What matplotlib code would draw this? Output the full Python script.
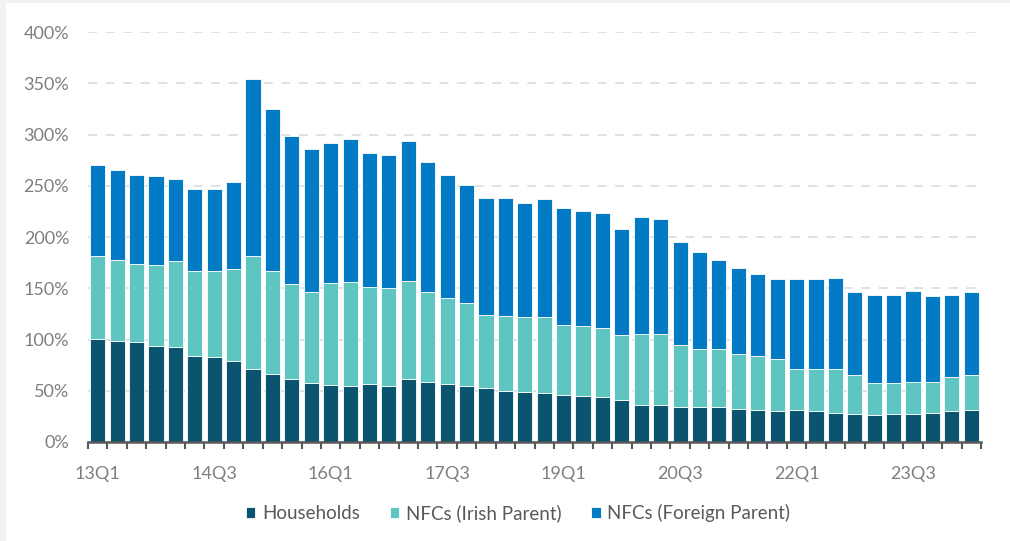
import matplotlib
matplotlib.use('Agg')
import numpy as np
from matplotlib import pyplot as plt
from matplotlib.patches import Rectangle

# quarters 13Q1 .. 24Q2
quarters = [f"{y % 100:02d}Q{q}" for y in range(2013, 2025) for q in range(1, 5)][:46]

households = [100.2, 98.8, 97.6, 93.7, 92.4, 83.9, 82.6, 78.7, 71.2, 66.3,
              61.1, 57.2, 55.9, 55.0, 56.3, 55.0, 61.1, 58.8, 56.3, 55.0,
              52.4, 50.1, 48.8, 47.5, 46.2, 44.9, 43.9, 41.3, 36.4, 36.4,
              33.8, 33.8, 33.8, 32.5, 31.2, 29.9, 31.2, 29.9, 28.6, 27.3,
              26.0, 27.3, 27.3, 28.6, 29.9, 31.2]
nfc_irish = [81.3, 78.8, 76.1, 79.0, 83.9, 82.6, 83.9, 90.1, 110.3, 100.2,
             92.7, 89.1, 99.2, 101.4, 95.2, 95.2, 96.3, 87.5, 83.9, 80.3,
             71.5, 72.8, 72.8, 74.1, 67.9, 67.9, 67.6, 62.7, 69.0, 69.0,
             61.1, 57.2, 57.2, 53.7, 52.4, 51.4, 40.0, 41.3, 42.6, 37.7,
             31.6, 30.3, 31.5, 30.2, 33.8, 33.8]
nfc_foreign = [89.0, 87.8, 86.8, 86.5, 80.3, 80.0, 80.0, 85.2, 173.0, 158.1,
               144.4, 139.2, 136.6, 138.9, 130.1, 130.1, 136.6, 126.5, 120.3, 115.4,
               114.1, 115.1, 111.6, 115.2, 113.9, 112.6, 111.6, 103.5, 113.8, 112.5,
               100.2, 94.0, 86.6, 83.9, 80.3, 77.4, 87.5, 87.5, 89.1, 81.3,
               86.1, 86.1, 88.8, 84.0, 80.0, 81.3]

series = [("Households", households, "#0B546F"),
          ("NFCs (Irish Parent)", nfc_irish, "#5EC5C1"),
          ("NFCs (Foreign Parent)", nfc_foreign, "#027BC4")]

plt.rcParams['font.family'] = ['Lato', 'DejaVu Sans']
grey = "#7F7F7F"

fig = plt.figure(figsize=(10.1, 5.41), dpi=100, facecolor="#F2F2F2")
fig.patches.append(Rectangle((6 / 1010, 0), 1, 1 - 3 / 541, transform=fig.transFigure,
                             facecolor="white", edgecolor="none", zorder=-1))
ax = fig.add_axes([88 / 1010, 99 / 541, 893 / 1010, 410 / 541])
ax.set_facecolor("none")

x = np.arange(len(quarters))
bottom = np.zeros(len(quarters))
for name, vals, color in series:
    vals = np.array(vals)
    ax.bar(x, vals, width=0.78, bottom=bottom, color=color, edgecolor="white",
           linewidth=0.6, label=name, zorder=2)
    bottom += vals

ax.set_xlim(-0.5, len(quarters) - 0.5)
ax.set_ylim(0, 400)
ax.set_yticks(range(0, 401, 50))
ax.set_yticklabels([f"{v}%" for v in range(0, 401, 50)])
ax.yaxis.grid(True, color="#D9D9D9", linewidth=1.1, dashes=(6, 5.5), zorder=0)
ax.tick_params(axis='y', length=0, pad=13.5, labelsize=13, labelcolor=grey)

# tick marks between categories, labels every sixth quarter
ax.set_xticks(np.arange(-0.5, len(quarters)), minor=False)
ax.set_xticklabels([])
ax.tick_params(axis='x', which='major', length=5, width=1.5, color="#595959", direction='out')
ax.set_xticks(x[::6], minor=True)
ax.set_xticklabels([quarters[i] for i in x[::6]], minor=True)
ax.tick_params(axis='x', which='minor', length=0, pad=17, labelsize=13, labelcolor=grey)

for side in ("top", "right", "left"):
    ax.spines[side].set_visible(False)
ax.spines["bottom"].set_color("#595959")
ax.spines["bottom"].set_linewidth(1.8)
ax.spines["bottom"].set_zorder(3)

fig.legend(loc="center", bbox_to_anchor=(0.513, 0.052), ncol=3, frameon=False,
           fontsize=13.5, labelcolor="#595959", handlelength=0.5, handleheight=0.5,
           handletextpad=0.35, columnspacing=1.6)

fig.savefig("out.png", dpi=100, facecolor=fig.get_facecolor())
